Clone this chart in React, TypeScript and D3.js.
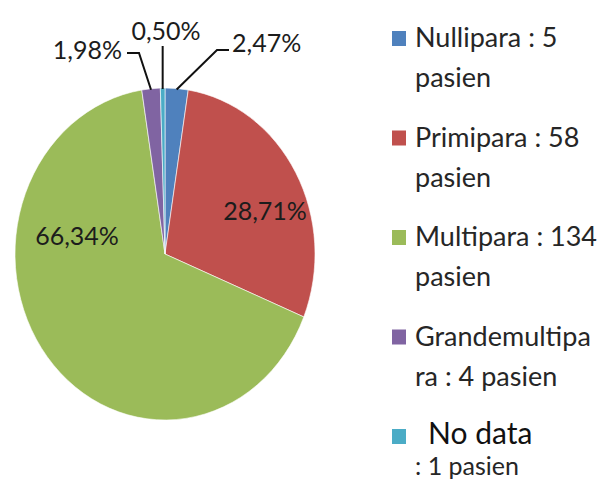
import React, { useEffect, useRef } from 'react';
import * as d3 from 'd3';

// parity groups, clockwise from 12 o'clock
const categories = ['Nullipara', 'Primipara', 'Multipara', 'Grandemultipara', 'No data'];
const patients = [5, 58, 134, 4, 1];
const pctLabels = ['2,47%', '28,71%', '66,34%', '1,98%', '0,50%'];
const legendLines = [
  ['Nullipara : 5', 'pasien'],
  ['Primipara : 58', 'pasien'],
  ['Multipara : 134', 'pasien'],
  ['Grandemultipa', 'ra : 4 pasien'],
  ['No data', ': 1 pasien'],
];
const colors = ['#4F81BD', '#C0504D', '#9BBB59', '#8064A2', '#4BACC6'];

interface Slice {
  name: string;
  value: number;
  label: string;
  color: string;
}

const slices: Slice[] = categories.map((c, i) => ({
  name: c,
  value: patients[i],
  label: pctLabels[i],
  color: colors[i],
}));

// label placement (in pie-centre coordinates), null elbow = straight leader or inside label
const labelPos = [
  { dx: 67, dy: -202, anchor: 'start', elbow: [52, -204], end: [64, -204] },
  { dx: 100, dy: -34, anchor: 'middle', elbow: null, end: null },
  { dx: -88, dy: -9, anchor: 'middle', elbow: null, end: null },
  { dx: -43, dy: -195, anchor: 'end', elbow: [-26, -201], end: [-38, -201] },
  { dx: 1, dy: -214, anchor: 'middle', elbow: null, end: [-2, -208] },
];

const App: React.FC = () => {
  const ref = useRef<SVGSVGElement | null>(null);

  useEffect(() => {
    if (!ref.current) return;
    const svg = d3.select(ref.current);
    svg.selectAll('*').remove();

    const cx = 165;
    const cy = 254;
    const rx = 150;
    const ry = 166;
    const ky = ry / rx;
    const font = 'Lato, "Open Sans", sans-serif';

    const pie = d3.pie<Slice>().sort(null).value(d => d.value);
    const arcs = pie(slices);
    const arc = d3.arc<d3.PieArcDatum<Slice>>().innerRadius(0).outerRadius(rx);

    const g = svg.append('g').attr('transform', `translate(${cx},${cy})`);

    g.append('g')
      .attr('transform', `scale(1,${ky})`)
      .selectAll('path')
      .data(arcs)
      .enter().append('path')
      .attr('d', arc)
      .attr('fill', d => d.data.color)
      .attr('stroke', '#fff')
      .attr('stroke-width', 0.6)
      .attr('vector-effect', 'non-scaling-stroke');

    // leader lines from slice edge
    arcs.forEach((a, i) => {
      const p = labelPos[i];
      if (!p.end) return;
      const mid = (a.startAngle + a.endAngle) / 2;
      const ex = rx * Math.sin(mid);
      const ey = -ry * Math.cos(mid) + 1;
      const pts: [number, number][] = [[ex, ey]];
      if (p.elbow) {
        pts.push(p.elbow as [number, number]);
        pts.push(p.end as [number, number]);
      } else {
        pts.push([ex, p.end[1]]);
      }
      g.append('path')
        .attr('d', d3.line()(pts))
        .attr('fill', 'none')
        .attr('stroke', '#111')
        .attr('stroke-width', 2);
    });

    g.selectAll('text.lbl')
      .data(arcs)
      .enter().append('text')
      .attr('class', 'lbl')
      .attr('x', (d, i) => labelPos[i].dx)
      .attr('y', (d, i) => labelPos[i].dy)
      .attr('text-anchor', (d, i) => labelPos[i].anchor)
      .attr('font-family', font)
      .attr('font-size', 25)
      .attr('fill', '#1c1c1c')
      .text(d => d.data.label);

    // legend
    const ly = d3.scalePoint<number>().domain(d3.range(slices.length)).range([47, 445]);
    const leg = svg.append('g');
    slices.forEach((s, i) => {
      const y = ly(i)!;
      leg.append('rect')
        .attr('x', 392)
        .attr('y', y - 16)
        .attr('width', 14)
        .attr('height', 15)
        .attr('fill', s.color);
      const last = i === slices.length - 1;
      leg.append('text')
        .attr('x', last ? 428 : 415)
        .attr('y', last ? y - 1 : y)
        .attr('font-family', font)
        .attr('font-size', last ? 30 : 27)
        .attr('fill', last ? '#111' : '#262626')
        .text(legendLines[i][0]);
      leg.append('text')
        .attr('x', 415)
        .attr('y', y + (last ? 30 : 40))
        .attr('font-family', font)
        .attr('font-size', last ? 25 : 27)
        .attr('fill', '#262626')
        .text(legendLines[i][1]);
    });
  }, []);

  return (
    <svg
      ref={ref}
      width={601}
      height={486}
      style={{ position: 'absolute', left: 0, top: 0, background: '#fff' }}
    />
  );
};

export default App;
